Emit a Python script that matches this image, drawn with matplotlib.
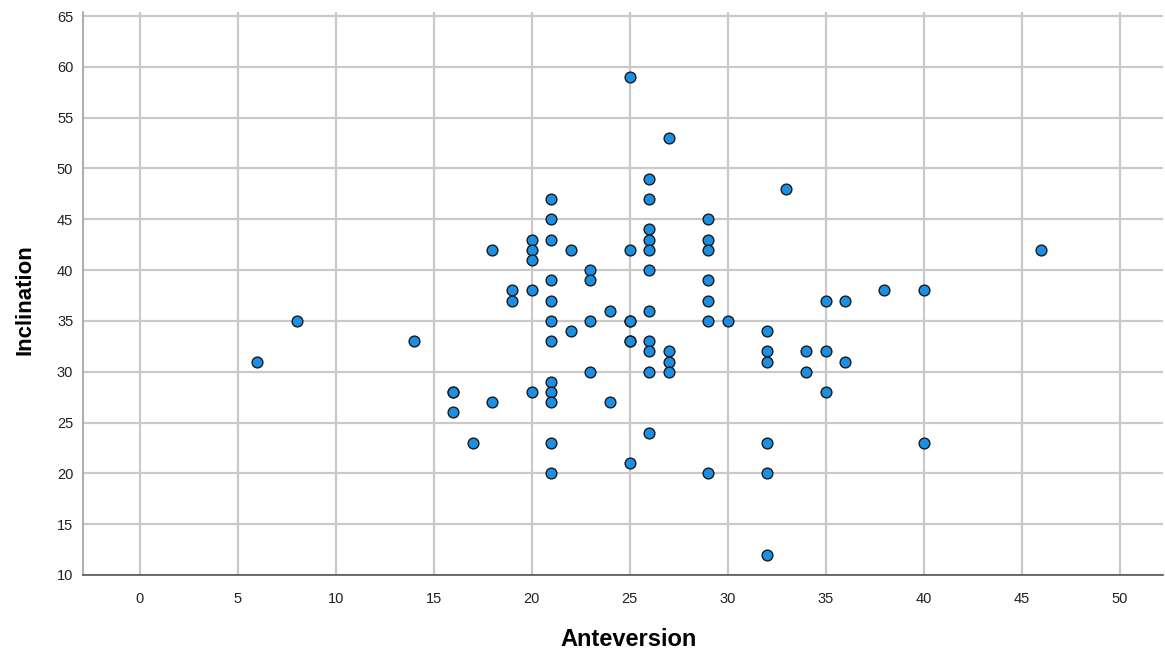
import numpy as np
import matplotlib.pyplot as plt

plt.rcParams['font.family'] = ['Liberation Sans', 'DejaVu Sans']

## the data (anteversion, inclination)
anteversion = [6, 8, 14, 16, 16, 16, 17, 18, 18, 19, 19,
               20, 20, 20, 20, 20,
               21, 21, 21, 21, 21, 21, 21, 21, 21, 21, 21, 21,
               22, 22, 23, 23, 23, 23, 24, 24,
               25, 25, 25, 25, 25, 25, 25,
               26, 26, 26, 26, 26, 26, 26, 26, 26, 26, 26,
               27, 27, 27, 27,
               29, 29, 29, 29, 29, 29, 29, 30,
               32, 32, 32, 32, 32, 32, 33, 34, 34,
               35, 35, 35, 36, 36, 38, 40, 40, 46]
inclination = [31, 35, 33, 28, 28, 26, 23, 42, 27, 38, 37,
               43, 42, 41, 38, 28,
               47, 45, 43, 39, 37, 35, 33, 29, 28, 27, 23, 20,
               42, 34, 40, 39, 35, 30, 36, 27,
               59, 42, 35, 35, 33, 33, 21,
               49, 47, 44, 43, 42, 40, 36, 33, 32, 30, 24,
               53, 32, 31, 30,
               45, 43, 42, 39, 37, 35, 20, 35,
               34, 32, 31, 23, 20, 12, 48, 32, 30,
               37, 32, 28, 37, 31, 38, 38, 23, 42]

fig = plt.figure(figsize=(11.65, 6.52), dpi=100)
ax = fig.add_axes([0.0712, 0.1181, 0.9268, 0.8635])

ax.scatter(anteversion, inclination, s=60, color='#1a8fe3',
           edgecolors='#1a1a1a', linewidths=1.0, zorder=3)

# axes and grid
ax.set_xlim(-2.9, 52.2)
ax.set_ylim(10, 65.4)
ax.set_xticks(np.arange(0, 51, 5))
ax.set_yticks(np.arange(10, 66, 5))
ax.grid(True, color='#c9c9c9', linewidth=1.6)
ax.set_axisbelow(True)
ax.tick_params(length=0, labelsize=10.5, labelcolor='#222222')
ax.tick_params(axis='x', pad=12)
ax.tick_params(axis='y', pad=7)

for s in ['top', 'right']:
    ax.spines[s].set_visible(False)
ax.spines['left'].set_color('#a0a0a0')
ax.spines['left'].set_linewidth(1.2)
ax.spines['bottom'].set_color('#555555')
ax.spines['bottom'].set_linewidth(1.2)

ax.set_xlabel('Anteversion', fontsize=17, fontweight='bold')
ax.set_ylabel('Inclination', fontsize=16, fontweight='bold')
ax.xaxis.set_label_coords(0.505, -0.095)
ax.yaxis.set_label_coords(-0.044, 0.49)

plt.savefig('out.png', dpi=100)
